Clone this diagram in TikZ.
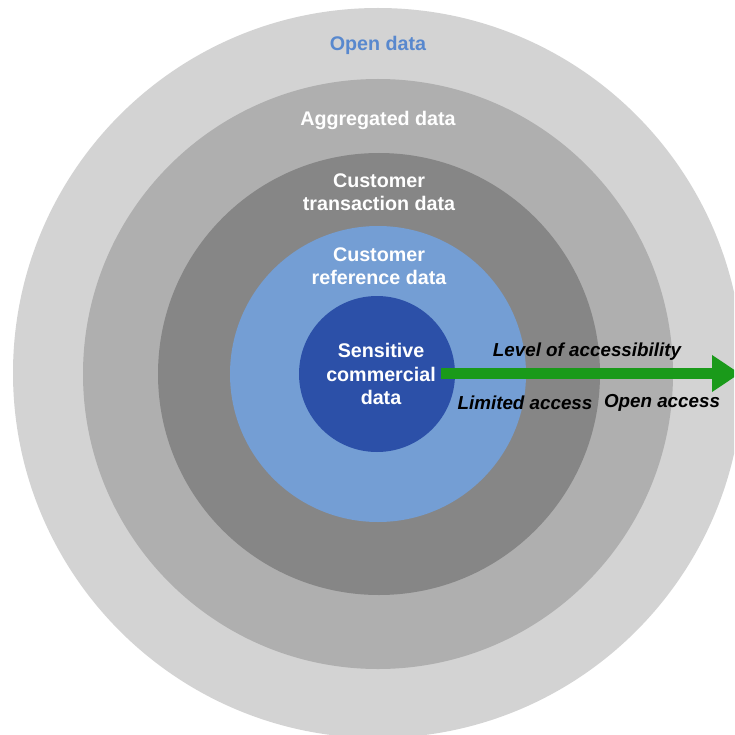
\documentclass[tikz,border=0pt]{standalone}
\usepackage{fontspec}
\setmainfont{Liberation Sans}
\usetikzlibrary{arrows.meta}
\definecolor{ring1}{RGB}{211,211,211}
\definecolor{ring2}{RGB}{175,175,175}
\definecolor{ring3}{RGB}{134,134,134}
\definecolor{ring4}{RGB}{116,158,212}
\definecolor{core}{RGB}{44,80,168}
\definecolor{opentext}{RGB}{88,136,206}
\definecolor{arrowgreen}{RGB}{26,154,26}
\tikzset{
  ring/.style={circle, draw=none, inner sep=0pt, minimum size=#1},
  lbl/.style={font=\fontsize{19.7}{23.5}\selectfont\bfseries, text=white, align=center, inner sep=0pt},
  ilbl/.style={font=\fontsize{18.8}{22}\selectfont\bfseries\itshape, text=black, inner sep=0pt},
}
\begin{document}
\begin{tikzpicture}[x=1pt,y=-1pt]
\useasboundingbox (0,0) rectangle (734,735);
\begin{scope}
\clip (0,0) rectangle (734,735);
\node[ring=730pt, fill=ring1] (c1) at (378,373) {};
\node[ring=590pt, fill=ring2] (c2) at (378,374) {};
\node[ring=442pt, fill=ring3] (c3) at (379,374) {};
\node[ring=296pt, fill=ring4] (c4) at (378,374) {};
\node[ring=156pt, fill=core] (c5) at (377,374) {};
\coordinate (astart) at (441,373.5);
\coordinate (aend) at (740,373.5);
\draw[arrowgreen, line width=11.5pt, -{Triangle[width=35pt,length=28pt]}] (astart) -- (aend);
\end{scope}
\node[lbl, text=opentext] (t1) at (378,45) {Open data};
\node[lbl] (t2) at (378,120) {Aggregated data};
\node[lbl] (t3) at (379,192) {Customer\\transaction data};
\node[lbl] (t4) at (379,266) {Customer\\reference data};
\node[lbl] (t5) at (381,374) {Sensitive\\commercial\\data};
\node[ilbl] (t6) at (587,352) {Level of accessibility};
\node[ilbl] (t7) at (525,403) {Limited access};
\node[ilbl] (t8) at (662,403) {Open access};
\end{tikzpicture}
\end{document}
